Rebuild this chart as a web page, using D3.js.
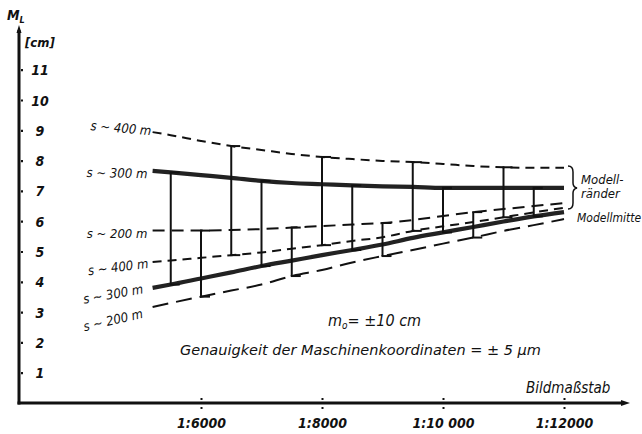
<!DOCTYPE html>
<html><head><meta charset="utf-8">
<script src="https://cdn.jsdelivr.net/npm/d3@7"></script>
<style>
body{margin:0;background:#fff}
text{font-family:"DejaVu Sans",sans-serif;font-style:italic;fill:#111;font-stretch:condensed}
</style>
</head><body>
<svg id="c" width="642" height="434"></svg>
<script>
// Bildmaßstab (1:n) sample points
const scales = [5200,5500,6000,6500,7000,7500,8000,8500,9000,9500,10000,10500,11000,11500,12000];
// Modellränder
const randS400 = [8.94,8.84,8.65,8.48,8.35,8.22,8.12,8.05,7.99,7.95,7.89,7.82,7.78,7.76,7.76];
const randS300 = [7.66,7.61,7.52,7.43,7.33,7.26,7.22,7.18,7.15,7.13,7.10,7.10,7.10,7.10,7.10];
const randS200 = [5.69,5.69,5.69,5.71,5.74,5.79,5.84,5.89,5.94,6.04,6.17,6.30,6.40,6.50,6.60];
// Modellmitte
const mitteS400 = [4.65,4.70,4.79,4.88,4.97,5.09,5.21,5.35,5.47,5.68,5.83,5.97,6.13,6.29,6.44];
const mitteS300 = [3.80,3.91,4.11,4.31,4.52,4.70,4.88,5.05,5.23,5.45,5.63,5.81,5.99,6.16,6.30];
const mitteS200 = [3.17,3.30,3.51,3.71,3.91,4.19,4.39,4.64,4.85,5.05,5.26,5.46,5.68,5.87,6.07];
// range bars (scale values)
const barsS400 = [6500,8000,9500,11000];
const barsS300 = [5500,7000,8500,10000,11500];
const barsS200 = [6000,7500,9000,10500];
// axes
const xTicks = [6000,8000,10000,12000];
const xTickLabels = ["1:6000","1:8000","1:10 000","1:12000"];
const yTicks = [1,2,3,4,5,6,7,8,9,10,11];
const seriesLabels = ["s ~ 400 m","s ~ 300 m","s ~ 200 m","s ~ 400 m","s ~ 300 m","s ~ 200 m"];

const svg = d3.select("#c");
const x = d3.scaleLinear().domain([3000,13000]).range([19.5,624.5]);
const y = d3.scaleLinear().domain([0,12]).range([403,39.4]);

// axes lines
svg.append("line").attr("x1",19).attr("x2",19).attr("y1",404.5).attr("y2",30)
  .attr("stroke","#111").attr("stroke-width",3);
svg.append("path").attr("d","M19,25 L16.5,33 L21.5,33 Z").attr("fill","#111");
svg.append("line").attr("x1",17.5).attr("x2",624).attr("y1",403).attr("y2",403)
  .attr("stroke","#111").attr("stroke-width",3);
svg.append("path").attr("d","M630,403 L621,400 L621,406 Z").attr("fill","#111");

// y ticks (dots) and labels
const yAxis = d3.axisRight(y).tickValues(yTicks).tickSize(2).tickFormat(d=>d);
const gy = svg.append("g").attr("transform","translate(21,0)").call(yAxis);
gy.select(".domain").remove();
gy.selectAll(".tick line").attr("stroke","#111").attr("stroke-width",2.2);
gy.selectAll(".tick text").attr("x",19).attr("dy","0.36em").attr("text-anchor","middle")
  .style("font-size","14px").style("font-weight","bold").attr("fill","#111");

// x ticks
const xAxis = d3.axisBottom(x).tickValues(xTicks).tickSize(0).tickFormat((d,i)=>xTickLabels[i]);
const gx = svg.append("g").attr("transform","translate(0,403)").call(xAxis);
gx.select(".domain").remove();
gx.selectAll(".tick text").attr("y",25).attr("dy","0").style("font-size","14px")
  .style("font-weight","bold").attr("fill","#111");
gx.selectAll(".tick").append("rect").attr("x",-1).attr("y",-5).attr("width",2).attr("height",2).attr("fill","#111");
gx.selectAll(".tick").append("rect").attr("x",-1).attr("y",4).attr("width",2).attr("height",2).attr("fill","#111");

// curves
const line = d3.line().x(d=>x(d[0])).y(d=>y(d[1])).curve(d3.curveMonotoneX);
const series = [
  {v:randS400, dash:"9,6", w:2},
  {v:randS300, dash:null, w:4.2},
  {v:randS200, dash:"12,7", w:2},
  {v:mitteS400, dash:"9,6", w:2},
  {v:mitteS300, dash:null, w:4.2},
  {v:mitteS200, dash:"16,8", w:2}
];
series.forEach(s=>{
  svg.append("path").datum(scales.map((k,i)=>[k,s.v[i]]))
    .attr("d",line).attr("fill","none").attr("stroke", s.w>3?"#222":"#111")
    .attr("stroke-width",s.w).attr("stroke-dasharray",s.dash);
});

// range bars
const barGroups = [
  {at:barsS400, top:randS400, bot:mitteS400},
  {at:barsS300, top:randS300, bot:mitteS300},
  {at:barsS200, top:randS200, bot:mitteS200}
];
barGroups.forEach(g=>{
  g.at.forEach(k=>{
    const i = scales.indexOf(k);
    const xx = x(k), y1 = y(g.top[i]), y2 = y(g.bot[i]);
    svg.append("line").attr("x1",xx).attr("x2",xx).attr("y1",y1).attr("y2",y2)
      .attr("stroke","#111").attr("stroke-width",2);
    [y1,y2].forEach(yy=>svg.append("line").attr("x1",xx-1).attr("x2",xx+9)
      .attr("y1",yy).attr("y2",yy).attr("stroke","#111").attr("stroke-width",2));
  });
});

// series labels at left
const labelPos = [[121,128,5],[117,173,1],[117,233,0],[118,267,-7],[113,294,-10],[113,320,-13]];
seriesLabels.forEach((t,i)=>{
  const p = labelPos[i];
  svg.append("text").attr("x",p[0]).attr("y",p[1]).attr("dy","0.35em")
    .attr("text-anchor","middle").attr("transform",`rotate(${p[2]},${p[0]},${p[1]})`)
    .style("font-size","13px").text(t);
});

// right labels and brace
svg.append("path").attr("d","M568,166 Q573,166 573,172 L573,183 Q573,187 577,188 Q573,189 573,193 L573,203 Q573,209 568,209")
  .attr("fill","none").attr("stroke","#111").attr("stroke-width",1.5);
svg.append("text").attr("x",581).attr("y",184).style("font-size","13px").text("Modell-");
svg.append("text").attr("x",581).attr("y",198).style("font-size","13px").text("ränder");
svg.append("text").attr("x",577).attr("y",222).style("font-size","12px").text("Modellmitte");

// axis titles
const ml = svg.append("text").attr("x",7).attr("y",20).style("font-size","14px").style("font-weight","bold");
ml.append("tspan").text("M");
ml.append("tspan").attr("dy",3).style("font-size","9px").text("L");
svg.append("text").attr("x",25).attr("y",47).style("font-size","13px").style("font-weight","bold").text("[cm]");
svg.append("text").attr("x",526).attr("y",393).style("font-size","15px").text("Bildmaßstab");

// annotations
const m0 = svg.append("text").attr("x",328).attr("y",326).style("font-size","16px");
m0.append("tspan").text("m");
m0.append("tspan").attr("dy",3).style("font-size","10px").text("o");
m0.append("tspan").attr("dy",-3).text("= ±10 cm");
svg.append("text").attr("x",180).attr("y",355).style("font-size","14.5px").style("font-stretch","normal")
  .text("Genauigkeit der  Maschinenkoordinaten = ± 5 µm");
</script>
</body></html>
